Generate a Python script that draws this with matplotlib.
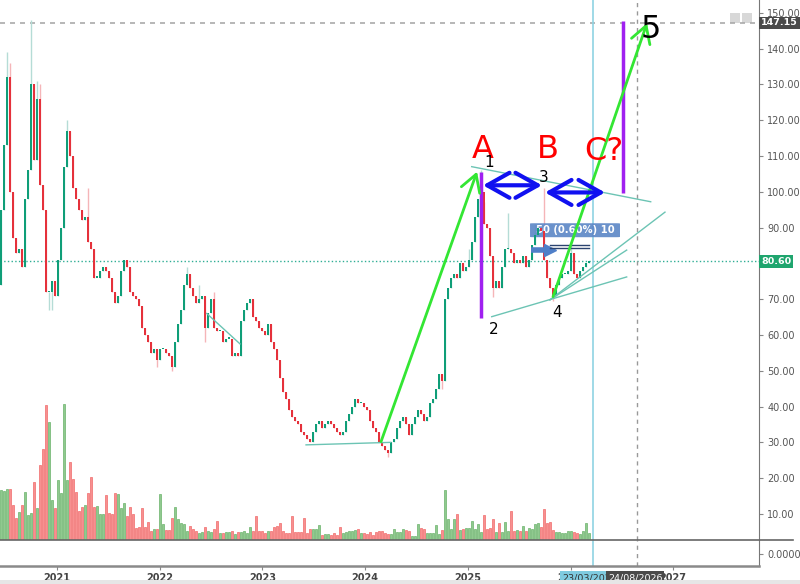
import numpy as np
import matplotlib
matplotlib.use("Agg")
from matplotlib import pyplot as plt
from matplotlib.patches import Rectangle, FancyBboxPatch

# close of each bar (price)
closes = [
    95, 113, 132, 100, 87, 83, 84, 79, 98, 106,
    130, 109, 126, 102, 95, 72, 72, 75, 71, 81,
    90, 107, 117, 110, 101, 98, 95, 92, 93, 86,
    84, 76, 76, 78, 79, 78, 76, 72, 69, 71,
    78, 81, 79, 72, 71, 70, 68, 62, 60, 58,
    55, 56, 53, 56, 56, 55, 54, 51, 58, 63,
    67, 74, 77, 73, 71, 69, 70, 71, 62, 66,
    70, 62, 61, 61, 58, 59, 59, 54, 55, 54,
    64, 67, 69, 70, 65, 64, 62, 61, 60, 63,
    58, 56, 53, 48, 44, 42, 39, 37, 36, 35,
    33, 32, 31, 30, 33, 35, 36, 34, 35, 36,
    35, 34, 33, 32, 33, 36, 38, 40, 42, 41,
    41, 40, 39, 36, 34, 33, 30, 29, 28, 27,
    30, 31, 34, 36, 37, 35, 32, 35, 37, 39,
    38, 36, 37, 41, 42, 45, 49, 47, 70, 73,
    76, 77, 76, 80, 78, 79, 81, 86, 93, 98,
    100, 91, 90, 82, 73, 75, 73, 79, 84, 84,
    83, 80, 81, 80, 82, 79, 81, 85, 88, 90,
    89, 81, 76, 73, 71, 74, 76, 77, 77, 78,
    83, 77, 76, 78, 79, 80, 80.6]
first_open = 74

# volume of each bar
volumes = [
    50, 49, 51, 51, 35, 22, 28, 35, 48, 25,
    27, 58, 32, 75, 91, 135, 118, 40, 32, 60,
    47, 136, 60, 78, 61, 48, 29, 33, 35, 47,
    63, 33, 34, 26, 26, 45, 27, 26, 47, 46,
    32, 37, 24, 33, 26, 12, 13, 32, 13, 18,
    9, 11, 11, 46, 16, 10, 10, 22, 33, 21,
    17, 16, 9, 14, 11, 9, 7, 8, 13, 9,
    8, 11, 19, 7, 7, 8, 8, 9, 6, 8,
    8, 9, 7, 13, 9, 24, 9, 9, 7, 9,
    9, 13, 14, 17, 9, 7, 7, 24, 8, 8,
    8, 22, 7, 11, 11, 11, 15, 5, 6, 6,
    5, 7, 5, 13, 7, 8, 9, 9, 10, 11,
    7, 7, 6, 8, 5, 8, 9, 9, 7, 6,
    6, 11, 8, 8, 11, 10, 9, 4, 4, 16,
    12, 11, 7, 7, 7, 15, 6, 10, 50, 21,
    11, 21, 26, 10, 11, 12, 12, 19, 11, 16,
    8, 25, 11, 12, 21, 8, 17, 8, 18, 9,
    29, 9, 10, 9, 14, 9, 12, 11, 16, 17,
    13, 31, 17, 18, 10, 8, 8, 7, 7, 9,
    9, 8, 7, 6, 9, 17, 7]

# notable wicks (bar index -> price)
wick_high = {2: 139, 3: 136, 10: 148, 12: 131, 13: 130, 22: 120, 29: 101,
             62: 79, 66: 74, 71: 72, 156: 84, 160: 106, 161: 97, 169: 94,
             178: 91, 181: 101, 190: 85}
wick_low = {16: 67, 17: 67, 52: 51, 57: 50, 68: 58, 129: 26, 147: 45,
            164: 70.5, 184: 69.5}

years = [2021, 2022, 2023, 2024, 2025, 2026, 2027]
price_ticks = [10, 20, 30, 40, 50, 60, 70, 90, 100, 110, 120, 130, 140, 150]
last_price = 80.6
target_price = 147.15

# time scale: fractional years
t0 = 2020.455
step = 3 / 102.7
n = len(closes)
t = t0 + step * np.arange(n)
closes = np.array(closes, dtype=float)
opens = np.concatenate([[first_open], closes[:-1]])
up = closes >= opens

GREEN = '#0f9e78'
RED = '#e5313b'
TEAL = '#6cc4b4'
d_blue = 2026 + 81 / 365     # 23/03/2026
d_dash = 2026 + 235 / 365    # 24/08/2026

fig = plt.figure(figsize=(8, 5.84), dpi=100)
fig.patch.set_facecolor('white')
W, H = 800, 584
rect_main = [0, 1 - 540 / H, 759 / W, 540 / H]
axv = fig.add_axes(rect_main)
ax = fig.add_axes(rect_main, sharex=axv)
ax2 = fig.add_axes([0, 1 - 566 / H, 759 / W, 26 / H], sharex=axv)
ax.patch.set_visible(False)
axv.set_zorder(0)
ax.set_zorder(1)

xmin, xmax = 2021 - 57 / 102.7, 2021 + 702 / 102.7
ax.set_xlim(xmin, xmax)
ax.set_ylim(2.73, 153.55)

# volume
axv.set_ylim(0, 540)
vcol = np.where(up, '#90c98f', '#f79090')
ecol = np.where(up, '#6bb36b', '#f06a6a')
axv.bar(t, volumes, width=step * 0.85, color=vcol, edgecolor=ecol, linewidth=0.5)
axv.axis('off')

# candles
hi = np.maximum(opens, closes)
lo = np.minimum(opens, closes)
for i, v in wick_high.items():
    hi[i] = v
for i, v in wick_low.items():
    lo[i] = v
ax.vlines(t, lo, hi, colors=np.where(up, '#b5dcd6', '#f5b5b8'), linewidth=1, zorder=2)
body = np.maximum(np.abs(closes - opens), 0.4)
ax.bar(t, body, bottom=np.minimum(opens, closes), width=step * 0.8,
       color=np.where(up, GREEN, RED), linewidth=0, zorder=3)

# reference lines
ax.axhline(target_price, color='#aaaaaa', ls=(0, (3, 3)), lw=1.2, zorder=1)
ax.axhline(last_price, color='#2fae95', ls=':', lw=1, zorder=1)
for a in (ax, ax2):
    a.axvline(d_blue, color='#8fd3e3', lw=1.2, zorder=1)
    a.axvline(d_dash, color='#999999', ls=(0, (3, 3)), lw=1, zorder=1)

# trend lines
segs = [((2025.038, 107.0), (2026.781, 97.2)),
        ((2025.233, 65.1), (2026.547, 76.2)),
        ((2025.80, 69.8), (2026.92, 94.3)),
        ((2025.80, 69.8), (2026.547, 83.7)),
        ((2023.425, 29.3), (2024.25, 30.0)),
        ((2022.458, 66.0), (2022.782, 57.5))]
for (x1, y1), (x2, y2) in segs:
    ax.plot([x1, x2], [y1, y2], color=TEAL, lw=1, zorder=4)

# purple bars
ax.vlines([2025.129], 64.7, 105.6, color='#a020f0', lw=2.5, zorder=5)
ax.vlines([2026.514], 99.6, 147.6, color='#a020f0', lw=2.5, zorder=5)

# green arrows
for s, e in [((2024.155, 30.2), (2025.09, 105.6)),
             ((2025.83, 70.7), (2026.745, 147.1))]:
    ax.annotate('', xy=e, xytext=s, zorder=6,
                arrowprops=dict(arrowstyle='->,head_length=0.6,head_width=0.35',
                                color='#33e633', lw=2, mutation_scale=20,
                                shrinkA=0, shrinkB=0))

# blue double arrows
for x1, x2, y in [(2025.148, 2025.722, 101.8), (2025.752, 2026.336, 99.8)]:
    ax.annotate('', xy=(x2, y), xytext=(x1, y), zorder=6,
                arrowprops=dict(arrowstyle='<->,head_length=0.8,head_width=0.45',
                                color='#1010f0', lw=3, mutation_scale=20,
                                shrinkA=0, shrinkB=0))

# wave labels
for s, x, y, c in [('A', 2025.148, 111.7, 'red'), ('B', 2025.781, 111.7, 'red'),
                   ('C?', 2026.326, 111.1, 'red'), ('5', 2026.784, 145.2, 'black')]:
    ax.text(x, y, s, color=c, fontsize=23, ha='center', va='center', zorder=7)
for s, x, y in [('1', 2025.205, 108.3), ('2', 2025.255, 61.4),
                ('3', 2025.742, 104.1), ('4', 2025.869, 66.4)]:
    ax.text(x, y, s, color='black', fontsize=11, ha='center', va='center', zorder=7)

# tooltip-like box
box = FancyBboxPatch((2025.606, 87.3), 0.876, 3.9, boxstyle='round,pad=0,rounding_size=0.03',
                     fc='#5b86c6', ec='none', alpha=0.9, zorder=2.5,
                     mutation_aspect=3)
ax.add_patch(box)
ax.text(2025.66, 89.25, '50 (0.60%) 10', color='white', fontsize=7.2, fontweight='bold',
        va='center', ha='left', zorder=2.6)
ax.plot([2025.62, 2025.78], [83.8, 83.8], color='#4f7fc8', lw=4, zorder=4,
        solid_capstyle='butt')
ax.plot([2025.80], [83.8], marker='>', color='#4f7fc8', ms=9, zorder=4)
ax.plot([2025.80, 2026.18], [85.0, 85.0], color='#2c4470', lw=1, zorder=4)
ax.plot([2025.80, 2026.18], [84.3, 84.3], color='#2c4470', lw=1, zorder=4)

# price axis
ax.yaxis.tick_right()
ax.set_yticks(price_ticks)
ax.set_yticklabels([f'{p:.2f}' for p in price_ticks])
ax.tick_params(axis='y', colors='#888888', labelcolor='#555555', labelsize=7,
               length=3, pad=3)
ax.tick_params(axis='x', bottom=False, labelbottom=False)
for sp in ('top', 'left', 'bottom'):
    ax.spines[sp].set_visible(False)
ax.spines['right'].set_color('#777777')

lab = dict(boxstyle='square,pad=0.2', ec='none')
ax.annotate(f'{target_price:.2f}', xy=(1.003, target_price), xycoords=('axes fraction', 'data'),
            color='white', fontsize=6.8, fontweight='bold', va='center', ha='left',
            bbox=dict(fc='#4a4a4a', **lab), annotation_clip=False)
ax.annotate(f'{last_price:.2f}', xy=(1.003, last_price), xycoords=('axes fraction', 'data'),
            color='white', fontsize=6.8, fontweight='bold', va='center', ha='left',
            bbox=dict(fc='#1fa56e', **lab), annotation_clip=False)

# lower pane
ax2.set_ylim(-12, 14)
ax2.yaxis.tick_right()
ax2.set_yticks([0])
ax2.set_yticklabels(['0.0000'])
ax2.tick_params(axis='y', colors='#888888', labelcolor='#555555', labelsize=7,
                length=3, pad=3)
ax2.set_xticks(years)
ax2.set_xticklabels([str(y) for y in years])
ax2.tick_params(axis='x', colors='#888888', labelcolor='#444444', labelsize=7,
                length=3, pad=2)
for lb in ax2.get_xticklabels():
    lb.set_fontweight('bold')
ax2.spines['top'].set_visible(False)
ax2.spines['left'].set_visible(False)
ax2.spines['right'].set_color('#777777')
ax2.spines['bottom'].set_color('#8a8a8a')
ax2.spines['bottom'].set_linewidth(1.8)
ax2.patch.set_visible(False)

# pane separator
fig.add_artist(plt.Line2D([0, 793 / W], [1 - 540 / H, 1 - 540 / H], color='#666666', lw=1.2))
fig.add_artist(Rectangle((0, 0), 1, 4 / H, fc='#e6e6e6', ec='none'))

# date labels on time axis
ax2.annotate('23/03/2026', xy=(d_blue - 0.035, -0.45), xycoords=('data', 'axes fraction'),
             ha='center', va='center', fontsize=6.8, color='#333333',
             bbox=dict(boxstyle='square,pad=0.2', fc='#7fcbe0', ec='none'),
             annotation_clip=False, zorder=10)
ax2.annotate('24/08/2026', xy=(d_dash - 0.015, -0.45), xycoords=('data', 'axes fraction'),
             ha='center', va='center', fontsize=6.8, color='white',
             bbox=dict(boxstyle='square,pad=0.2', fc='#4a4a4a', ec='none'),
             annotation_clip=False, zorder=11)

# small icons near top right
for x0 in (730, 742):
    fig.add_artist(Rectangle((x0 / W, 1 - 23 / H), 10 / W, 10 / H, fc='#d8d8d8', ec='none'))

fig.savefig('out.png', dpi=100, facecolor='white')
